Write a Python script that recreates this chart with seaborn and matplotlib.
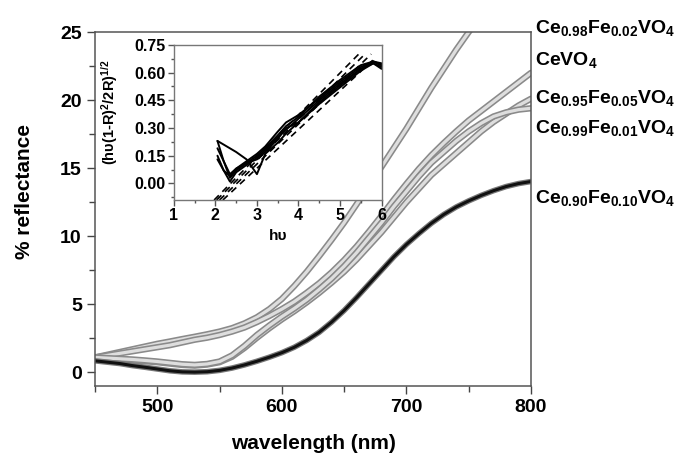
import numpy as np
import pandas as pd
import matplotlib
matplotlib.use("Agg")
import matplotlib.pyplot as plt
import seaborn as sns
from matplotlib.ticker import MultipleLocator, FormatStrFormatter

# ---------------- data ----------------
wavelength = [450, 460, 470, 480, 490, 500, 510, 520, 530, 540, 550, 560, 570, 580, 590,
              600, 610, 620, 630, 640, 650, 660, 670, 680, 690, 700, 710, 720, 730, 740,
              750, 760, 770, 780, 790, 800]
ce098 = [1.1, 1.3, 1.5, 1.7, 1.9, 2.1, 2.27, 2.45, 2.62, 2.8, 3.0, 3.25, 3.6, 4.05, 4.65,
         5.4, 6.35, 7.4, 8.55, 9.75, 11.0, 12.35, 13.75, 15.1, 16.5, 17.9, 19.4, 20.9, 22.3, 23.7,
         25.0, 26.2, 27.3, 28.3, 29.2, 30.1]
cevo4 = [1.1, 1.25, 1.4, 1.55, 1.7, 1.85, 2.0, 2.2, 2.4, 2.55, 2.75, 3.0, 3.3, 3.7, 4.15,
         4.65, 5.2, 5.85, 6.55, 7.35, 8.25, 9.25, 10.35, 11.5, 12.7, 13.85, 14.95, 15.95, 16.85, 17.7,
         18.5, 19.2, 19.9, 20.6, 21.3, 22.0]
ce095 = [1.0, 0.97, 0.93, 0.88, 0.82, 0.75, 0.65, 0.55, 0.5, 0.58, 0.75, 1.15, 1.8, 2.55, 3.25,
         3.9, 4.5, 5.15, 5.85, 6.6, 7.4, 8.3, 9.3, 10.3, 11.4, 12.5, 13.5, 14.5, 15.3, 16.1,
         16.9, 17.7, 18.4, 19.0, 19.6, 20.1]
ce099 = [1.1, 1.05, 1.0, 0.95, 0.88, 0.8, 0.7, 0.6, 0.55, 0.62, 0.8, 1.25, 1.95, 2.75, 3.45,
         4.1, 4.7, 5.35, 6.1, 6.9, 7.8, 8.8, 9.9, 11.0, 12.2, 13.3, 14.4, 15.4, 16.2, 17.0,
         17.7, 18.3, 18.8, 19.1, 19.3, 19.4]
ce090 = [0.85, 0.75, 0.65, 0.5, 0.38, 0.25, 0.12, 0.04, 0.02, 0.05, 0.15, 0.32, 0.55, 0.82, 1.12,
         1.45, 1.85, 2.35, 2.95, 3.7, 4.55, 5.5, 6.5, 7.5, 8.5, 9.4, 10.2, 10.95, 11.6, 12.15,
         12.6, 13.0, 13.35, 13.65, 13.87, 14.02]

labels = ["Ce$_{0.98}$Fe$_{0.02}$VO$_4$", "CeVO$_4$", "Ce$_{0.95}$Fe$_{0.05}$VO$_4$",
          "Ce$_{0.99}$Fe$_{0.01}$VO$_4$", "Ce$_{0.90}$Fe$_{0.10}$VO$_4$"]
label_y = [24.9, 22.6, 19.8, 17.6, 12.45]

# inset: Kubelka-Munk transformed curves
hv = [2.05, 2.2, 2.35, 2.5, 2.75, 3.0, 3.2, 3.5, 3.7, 4.0, 4.5, 5.0, 5.5, 5.8, 6.0]
km1 = [0.23, 0.12, 0.03, 0.07, 0.11, 0.13, 0.17, 0.24, 0.30, 0.33, 0.43, 0.52, 0.61, 0.65, 0.62]
km2 = [0.15, 0.07, 0.01, 0.06, 0.10, 0.14, 0.18, 0.25, 0.29, 0.35, 0.45, 0.54, 0.62, 0.65, 0.63]
km3 = [0.23, 0.21, 0.19, 0.17, 0.13, 0.05, 0.16, 0.22, 0.27, 0.33, 0.44, 0.53, 0.62, 0.66, 0.64]
km4 = [0.19, 0.12, 0.05, 0.08, 0.12, 0.16, 0.20, 0.28, 0.33, 0.37, 0.46, 0.55, 0.63, 0.66, 0.65]
km5 = [0.13, 0.07, 0.04, 0.08, 0.11, 0.15, 0.19, 0.26, 0.31, 0.36, 0.47, 0.56, 0.64, 0.66, 0.64]
# linear fits (dashed): start/end hv and value
fit_hv0 = [1.97, 2.03, 2.1, 2.18]
fit_hv1 = [5.45, 5.6, 5.75, 5.85]
fit_y0 = [-0.09, -0.09, -0.09, -0.09]
fit_y1 = [0.70, 0.70, 0.70, 0.68]

# ---------------- style ----------------
sns.set_theme(style="ticks")
plt.rcParams["font.family"] = ["Liberation Sans", "DejaVu Sans"]
plt.rcParams["font.weight"] = "bold"
plt.rcParams["text.color"] = "black"
plt.rcParams["axes.labelcolor"] = "black"
plt.rcParams["mathtext.fontset"] = "custom"
plt.rcParams["mathtext.rm"] = "Liberation Sans:bold"
plt.rcParams["mathtext.bf"] = "Liberation Sans:bold"
plt.rcParams["mathtext.it"] = "Liberation Sans:bold"
plt.rcParams["mathtext.default"] = "bf"

fig = plt.figure(figsize=(6.79, 4.55), dpi=100)
ax = fig.add_axes([0.140, 0.1516, 0.642, 0.778])

for ys in [ce098, cevo4, ce095, ce099]:
    d = pd.DataFrame({"x": wavelength, "y": ys})
    sns.lineplot(data=d, x="x", y="y", ax=ax, color="#8a8a8a", lw=4.6, sort=False, estimator=None)
    sns.lineplot(data=d, x="x", y="y", ax=ax, color="#dedede", lw=2.3, sort=False, estimator=None)
d = pd.DataFrame({"x": wavelength, "y": ce090})
sns.lineplot(data=d, x="x", y="y", ax=ax, color="#777777", lw=4.0, sort=False, estimator=None)
sns.lineplot(data=d, x="x", y="y", ax=ax, color="#111111", lw=2.2, sort=False, estimator=None)

ax.set_xlim(450, 800)
ax.set_ylim(-1, 25)
ax.xaxis.set_major_locator(MultipleLocator(100))
ax.xaxis.set_minor_locator(MultipleLocator(50))
ax.yaxis.set_major_locator(MultipleLocator(5))
ax.yaxis.set_minor_locator(MultipleLocator(2.5))
ax.tick_params(which="major", length=6, width=1, labelsize=14, color="#444444",
               labelcolor="black", direction="out")
ax.tick_params(which="minor", length=4, width=1, color="#444444", direction="out")
for lab in ax.get_xticklabels() + ax.get_yticklabels():
    lab.set_fontweight("bold")
for s in ax.spines.values():
    s.set_color("#555555")
    s.set_linewidth(1.1)
ax.set_xlabel("wavelength (nm)", fontsize=15, fontweight="bold", color="black")
ax.set_ylabel("% reflectance", fontsize=15, fontweight="bold", color="black")
ax.xaxis.set_label_coords(0.5, -0.135)
ax.yaxis.set_label_coords(-0.14, 0.55)

tr = ax.get_yaxis_transform()
for lab, yv in zip(labels, label_y):
    ax.text(1.009, yv, lab, transform=tr, fontsize=14, fontweight="bold", color="black",
            ha="left", va="baseline", clip_on=False)

# ---------------- inset ----------------
ins = fig.add_axes([0.256, 0.5604, 0.306, 0.341])
for ys in [km1, km2, km3, km4, km5]:
    d = pd.DataFrame({"x": hv, "y": ys})
    sns.lineplot(data=d, x="x", y="y", ax=ins, color="black", lw=1.4, sort=False, estimator=None)
for a0, a1, b0, b1 in zip(fit_hv0, fit_hv1, fit_y0, fit_y1):
    d = pd.DataFrame({"x": [a0, a1], "y": [b0, b1]})
    sns.lineplot(data=d, x="x", y="y", ax=ins, color="black", lw=1.2, sort=False,
                 estimator=None, linestyle=(0, (4, 3)))
ins.set_xlim(1, 6)
ins.set_ylim(-0.09, 0.75)
ins.xaxis.set_major_locator(MultipleLocator(1))
ins.xaxis.set_minor_locator(MultipleLocator(0.5))
ins.yaxis.set_major_locator(MultipleLocator(0.15))
ins.yaxis.set_minor_locator(MultipleLocator(0.075))
ins.yaxis.set_major_formatter(FormatStrFormatter("%.2f"))
ins.tick_params(which="major", length=4, width=1, labelsize=11.5, color="#555555",
                labelcolor="black", pad=2)
ins.tick_params(which="minor", length=2.5, width=1, color="#555555")
for lab in ins.get_xticklabels() + ins.get_yticklabels():
    lab.set_fontweight("bold")
for s in ins.spines.values():
    s.set_color("#777777")
    s.set_linewidth(1.0)
ins.set_xlabel("hυ", fontsize=11, fontweight="bold", color="black")
ins.set_ylabel("(hυ(1-R)$^2$/2R)$^{1/2}$", fontsize=10.5, fontweight="bold", color="black")
ins.xaxis.set_label_coords(0.5, -0.19)
ins.yaxis.set_label_coords(-0.26, 0.565)

fig.savefig("out.png", dpi=100)
